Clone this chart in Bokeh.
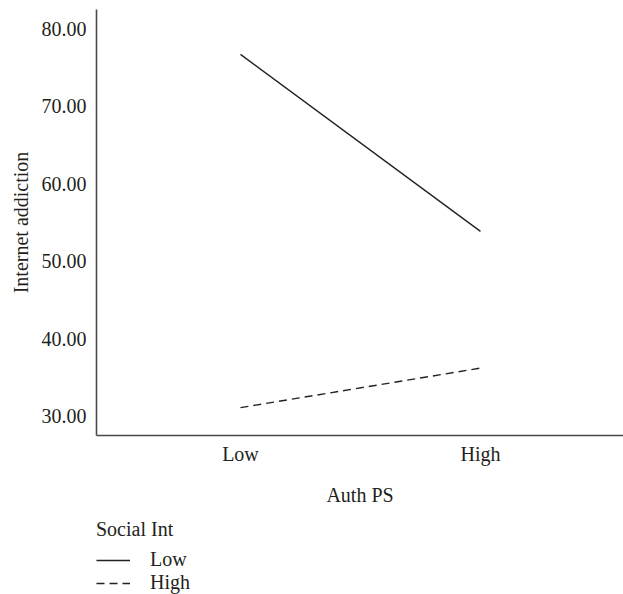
from bokeh.plotting import figure
from bokeh.layouts import column
from bokeh.models import FixedTicker, Legend, LegendItem, NumeralTickFormatter, Range1d
from bokeh.embed import file_html
from bokeh.resources import INLINE

# Data
auth_ps = ["Low", "High"]
social_low = [76.7, 53.85]
social_high = [31.1, 36.2]
y_ticks = [30, 40, 50, 60, 70, 80]
legend_title = "Social Int"
legend_labels = ["Low", "High"]

FONT = "Liberation Serif"
TXT = "#231f20"
FS = "20px"
LINE_C = "#222222"
DASH = "8 5"

xs = list(range(len(auth_ps)))

main = figure(frame_width=527, frame_height=426, output_backend="svg", toolbar_location=None,
              x_range=Range1d(-0.6, 1.596), y_range=Range1d(27.5, 82.5),
              min_border_left=96, min_border_top=9, min_border_right=0, min_border_bottom=83)
main.outline_line_color = None
main.grid.visible = False

main.line(xs, social_low, line_color=LINE_C, line_width=1.4)
main.line(xs, social_high, line_color=LINE_C, line_width=1.4, line_dash=DASH)

for ax in (main.xaxis[0], main.yaxis[0]):
    ax.axis_line_color = "#4a4a4a"
    ax.axis_line_width = 1.6
    ax.major_tick_line_color = None
    ax.minor_tick_line_color = None
    ax.major_tick_out = 0
    ax.major_tick_in = 0
    ax.major_label_text_font = FONT
    ax.major_label_text_font_size = FS
    ax.major_label_text_color = TXT
    ax.axis_label_text_font = FONT
    ax.axis_label_text_font_size = FS
    ax.axis_label_text_color = TXT
    ax.axis_label_text_font_style = "normal"

main.xaxis.ticker = FixedTicker(ticks=xs)
main.xaxis.major_label_overrides = {i: lab for i, lab in enumerate(auth_ps)}
main.xaxis.axis_label = "Auth PS"
main.xaxis.major_label_standoff = 7
main.xaxis.axis_label_standoff = 16

main.yaxis.ticker = FixedTicker(ticks=y_ticks)
main.yaxis.formatter = NumeralTickFormatter(format="0.00")
main.yaxis.axis_label = "Internet addiction"
main.yaxis.major_label_standoff = 10
main.yaxis.axis_label_standoff = 7

# Legend panel below the chart: same series, drawn outside its visible range so only the key shows
leg = figure(frame_width=527, frame_height=76, output_backend="svg", toolbar_location=None,
             x_range=Range1d(-10, -9), y_range=Range1d(0, 1),
             x_axis_location=None, y_axis_location=None,
             min_border_left=96, min_border_top=0, min_border_right=0, min_border_bottom=0)
leg.outline_line_color = None
leg.grid.visible = False
k_low = leg.line(xs, social_low, line_color=LINE_C, line_width=1.4)
k_high = leg.line(xs, social_high, line_color=LINE_C, line_width=1.4, line_dash=DASH)

legend = Legend(items=[LegendItem(label=legend_labels[0], renderers=[k_low]),
                       LegendItem(label=legend_labels[1], renderers=[k_high])],
                title=legend_title, location="top_left", orientation="vertical")
legend.title_text_font = FONT
legend.title_text_font_size = FS
legend.title_text_color = TXT
legend.title_text_font_style = "normal"
legend.title_standoff = 7
legend.label_text_font = FONT
legend.label_text_font_size = FS
legend.label_text_color = TXT
legend.glyph_width = 34
legend.glyph_height = 22
legend.label_height = 22
legend.label_standoff = 20
legend.spacing = 0
legend.padding = 0
legend.margin = 0
legend.border_line_color = None
legend.background_fill_alpha = 0
leg.add_layout(legend, "center")

layout = column(main, leg, spacing=0)
open("out.html", "w").write(file_html(layout, INLINE))
